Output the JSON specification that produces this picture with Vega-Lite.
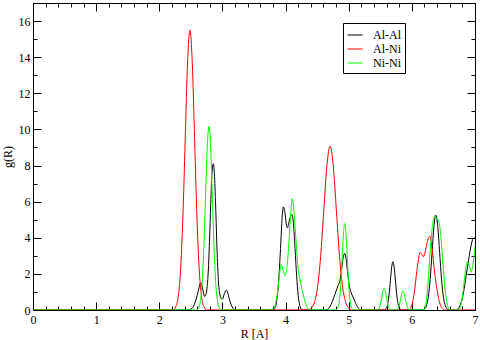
{
"$schema": "https://vega.github.io/schema/vega-lite/v6.json",
"width": 442, "height": 307,
"autosize": "none",
"padding": {"left": 33, "top": 3, "right": 5, "bottom": 30},
"background": "white",
"config": {
  "view": {"stroke": "black", "strokeWidth": 1},
  "font": "Liberation Serif",
  "axis": {"grid": false, "domain": false, "tickColor": "black", "labelColor": "black", "titleColor": "black", "labelFontSize": 12, "titleFontSize": 12, "titleFontWeight": "normal", "labelFlush": false, "labelOverlap": false}
},
"datasets": {
 "g": [
  {"pair":"Al-Al","R":0,"g":0},{"pair":"Al-Al","R":2.45,"g":0},{"pair":"Al-Al","R":2.5,"g":0.05},{"pair":"Al-Al","R":2.54,"g":0.2},{"pair":"Al-Al","R":2.57,"g":0.45},{"pair":"Al-Al","R":2.6,"g":0.8},{"pair":"Al-Al","R":2.63,"g":1.25},{"pair":"Al-Al","R":2.655,"g":1.51},{"pair":"Al-Al","R":2.68,"g":1.3},{"pair":"Al-Al","R":2.7,"g":0.95},{"pair":"Al-Al","R":2.715,"g":0.76},{"pair":"Al-Al","R":2.735,"g":0.8},{"pair":"Al-Al","R":2.755,"g":1.2},{"pair":"Al-Al","R":2.775,"g":2.1},{"pair":"Al-Al","R":2.795,"g":3.8},{"pair":"Al-Al","R":2.815,"g":5.9},{"pair":"Al-Al","R":2.835,"g":7.6},{"pair":"Al-Al","R":2.855,"g":8.1},{"pair":"Al-Al","R":2.875,"g":7.4},{"pair":"Al-Al","R":2.895,"g":5.5},{"pair":"Al-Al","R":2.915,"g":3.3},{"pair":"Al-Al","R":2.935,"g":1.7},{"pair":"Al-Al","R":2.955,"g":0.95},{"pair":"Al-Al","R":2.98,"g":0.65},{"pair":"Al-Al","R":3.0,"g":0.6},{"pair":"Al-Al","R":3.03,"g":0.9},{"pair":"Al-Al","R":3.06,"g":1.1},{"pair":"Al-Al","R":3.085,"g":0.95},{"pair":"Al-Al","R":3.11,"g":0.6},{"pair":"Al-Al","R":3.14,"g":0.28},{"pair":"Al-Al","R":3.17,"g":0.08},{"pair":"Al-Al","R":3.2,"g":0},
  {"pair":"Al-Al","R":3.8,"g":0},{"pair":"Al-Al","R":3.83,"g":0.1},{"pair":"Al-Al","R":3.86,"g":0.5},{"pair":"Al-Al","R":3.89,"g":1.6},{"pair":"Al-Al","R":3.92,"g":3.4},{"pair":"Al-Al","R":3.94,"g":4.8},{"pair":"Al-Al","R":3.965,"g":5.71},{"pair":"Al-Al","R":3.99,"g":5.4},{"pair":"Al-Al","R":4.01,"g":4.8},{"pair":"Al-Al","R":4.03,"g":4.55},{"pair":"Al-Al","R":4.055,"g":4.9},{"pair":"Al-Al","R":4.08,"g":5.2},{"pair":"Al-Al","R":4.1,"g":5.29},{"pair":"Al-Al","R":4.125,"g":4.8},{"pair":"Al-Al","R":4.15,"g":3.4},{"pair":"Al-Al","R":4.175,"g":1.9},{"pair":"Al-Al","R":4.2,"g":0.8},{"pair":"Al-Al","R":4.225,"g":0.25},{"pair":"Al-Al","R":4.25,"g":0.05},{"pair":"Al-Al","R":4.28,"g":0},
  {"pair":"Al-Al","R":4.64,"g":0},{"pair":"Al-Al","R":4.68,"g":0.08},{"pair":"Al-Al","R":4.72,"g":0.3},{"pair":"Al-Al","R":4.76,"g":0.65},{"pair":"Al-Al","R":4.8,"g":1.05},{"pair":"Al-Al","R":4.83,"g":1.35},{"pair":"Al-Al","R":4.86,"g":1.6},{"pair":"Al-Al","R":4.885,"g":2.2},{"pair":"Al-Al","R":4.91,"g":2.85},{"pair":"Al-Al","R":4.937,"g":3.13},{"pair":"Al-Al","R":4.96,"g":2.8},{"pair":"Al-Al","R":4.985,"g":2.0},{"pair":"Al-Al","R":5.01,"g":1.35},{"pair":"Al-Al","R":5.035,"g":1.0},{"pair":"Al-Al","R":5.06,"g":0.78},{"pair":"Al-Al","R":5.09,"g":0.55},{"pair":"Al-Al","R":5.12,"g":0.3},{"pair":"Al-Al","R":5.15,"g":0.12},{"pair":"Al-Al","R":5.19,"g":0},
  {"pair":"Al-Al","R":5.56,"g":0},{"pair":"Al-Al","R":5.58,"g":0.03},{"pair":"Al-Al","R":5.6,"g":0.12},{"pair":"Al-Al","R":5.62,"g":0.36},{"pair":"Al-Al","R":5.64,"g":0.87},{"pair":"Al-Al","R":5.66,"g":1.62},{"pair":"Al-Al","R":5.68,"g":2.36},{"pair":"Al-Al","R":5.7,"g":2.67},{"pair":"Al-Al","R":5.72,"g":2.36},{"pair":"Al-Al","R":5.74,"g":1.62},{"pair":"Al-Al","R":5.76,"g":0.87},{"pair":"Al-Al","R":5.78,"g":0.36},{"pair":"Al-Al","R":5.8,"g":0.12},{"pair":"Al-Al","R":5.82,"g":0.03},{"pair":"Al-Al","R":5.85,"g":0},
  {"pair":"Al-Al","R":6.18,"g":0},{"pair":"Al-Al","R":6.2,"g":0.06},{"pair":"Al-Al","R":6.23,"g":0.23},{"pair":"Al-Al","R":6.26,"g":0.71},{"pair":"Al-Al","R":6.29,"g":1.7},{"pair":"Al-Al","R":6.32,"g":3.18},{"pair":"Al-Al","R":6.35,"g":4.63},{"pair":"Al-Al","R":6.38,"g":5.25},{"pair":"Al-Al","R":6.41,"g":4.63},{"pair":"Al-Al","R":6.44,"g":3.18},{"pair":"Al-Al","R":6.47,"g":1.7},{"pair":"Al-Al","R":6.5,"g":0.71},{"pair":"Al-Al","R":6.53,"g":0.23},{"pair":"Al-Al","R":6.56,"g":0.06},{"pair":"Al-Al","R":6.6,"g":0},
  {"pair":"Al-Al","R":6.7,"g":0},{"pair":"Al-Al","R":6.74,"g":0.1},{"pair":"Al-Al","R":6.78,"g":0.4},{"pair":"Al-Al","R":6.82,"g":1.0},{"pair":"Al-Al","R":6.86,"g":1.9},{"pair":"Al-Al","R":6.9,"g":2.8},{"pair":"Al-Al","R":6.94,"g":3.6},{"pair":"Al-Al","R":6.97,"g":3.95},{"pair":"Al-Al","R":7.0,"g":4.0},

  {"pair":"Al-Ni","R":0,"g":0},{"pair":"Al-Ni","R":2.22,"g":0},{"pair":"Al-Ni","R":2.26,"g":0.17},{"pair":"Al-Ni","R":2.2975,"g":0.68},{"pair":"Al-Ni","R":2.335,"g":2.1},{"pair":"Al-Ni","R":2.3725,"g":5.03},{"pair":"Al-Ni","R":2.41,"g":9.4},{"pair":"Al-Ni","R":2.4475,"g":13.68},{"pair":"Al-Ni","R":2.485,"g":15.5},{"pair":"Al-Ni","R":2.5225,"g":13.68},{"pair":"Al-Ni","R":2.56,"g":9.4},{"pair":"Al-Ni","R":2.5975,"g":5.03},{"pair":"Al-Ni","R":2.635,"g":2.1},{"pair":"Al-Ni","R":2.6725,"g":0.68},{"pair":"Al-Ni","R":2.71,"g":0.17},{"pair":"Al-Ni","R":2.75,"g":0},
  {"pair":"Al-Ni","R":4.38,"g":0},{"pair":"Al-Ni","R":4.405,"g":0.1},{"pair":"Al-Ni","R":4.455,"g":0.4},{"pair":"Al-Ni","R":4.505,"g":1.23},{"pair":"Al-Ni","R":4.555,"g":2.95},{"pair":"Al-Ni","R":4.605,"g":5.51},{"pair":"Al-Ni","R":4.655,"g":8.01},{"pair":"Al-Ni","R":4.705,"g":9.08},{"pair":"Al-Ni","R":4.755,"g":8.01},{"pair":"Al-Ni","R":4.805,"g":5.51},{"pair":"Al-Ni","R":4.855,"g":2.95},{"pair":"Al-Ni","R":4.905,"g":1.23},{"pair":"Al-Ni","R":4.955,"g":0.4},{"pair":"Al-Ni","R":5.005,"g":0.1},{"pair":"Al-Ni","R":5.045,"g":0},
  {"pair":"Al-Ni","R":5.95,"g":0},{"pair":"Al-Ni","R":5.98,"g":0.1},{"pair":"Al-Ni","R":6.01,"g":0.4},{"pair":"Al-Ni","R":6.04,"g":1.0},{"pair":"Al-Ni","R":6.07,"g":1.9},{"pair":"Al-Ni","R":6.1,"g":2.7},{"pair":"Al-Ni","R":6.13,"g":3.19},{"pair":"Al-Ni","R":6.155,"g":3.1},{"pair":"Al-Ni","R":6.18,"g":2.95},{"pair":"Al-Ni","R":6.21,"g":3.2},{"pair":"Al-Ni","R":6.24,"g":3.7},{"pair":"Al-Ni","R":6.265,"g":4.0},{"pair":"Al-Ni","R":6.284,"g":4.09},{"pair":"Al-Ni","R":6.3,"g":3.9},{"pair":"Al-Ni","R":6.33,"g":3.1},{"pair":"Al-Ni","R":6.36,"g":2.1},{"pair":"Al-Ni","R":6.39,"g":1.3},{"pair":"Al-Ni","R":6.42,"g":0.7},{"pair":"Al-Ni","R":6.45,"g":0.3},{"pair":"Al-Ni","R":6.48,"g":0.1},{"pair":"Al-Ni","R":6.51,"g":0},{"pair":"Al-Ni","R":7.0,"g":0},

  {"pair":"Ni-Ni","R":0,"g":0},{"pair":"Ni-Ni","R":2.59,"g":0},{"pair":"Ni-Ni","R":2.621,"g":0.11},{"pair":"Ni-Ni","R":2.649,"g":0.45},{"pair":"Ni-Ni","R":2.676,"g":1.38},{"pair":"Ni-Ni","R":2.704,"g":3.3},{"pair":"Ni-Ni","R":2.731,"g":6.17},{"pair":"Ni-Ni","R":2.759,"g":8.97},{"pair":"Ni-Ni","R":2.786,"g":10.17},{"pair":"Ni-Ni","R":2.814,"g":8.97},{"pair":"Ni-Ni","R":2.841,"g":6.17},{"pair":"Ni-Ni","R":2.869,"g":3.3},{"pair":"Ni-Ni","R":2.896,"g":1.38},{"pair":"Ni-Ni","R":2.924,"g":0.45},{"pair":"Ni-Ni","R":2.951,"g":0.11},{"pair":"Ni-Ni","R":2.99,"g":0},
  {"pair":"Ni-Ni","R":3.77,"g":0},{"pair":"Ni-Ni","R":3.8,"g":0.05},{"pair":"Ni-Ni","R":3.82,"g":0.15},{"pair":"Ni-Ni","R":3.85,"g":0.5},{"pair":"Ni-Ni","R":3.88,"g":1.2},{"pair":"Ni-Ni","R":3.905,"g":2.0},{"pair":"Ni-Ni","R":3.93,"g":2.52},{"pair":"Ni-Ni","R":3.96,"g":2.2},{"pair":"Ni-Ni","R":3.99,"g":1.9},{"pair":"Ni-Ni","R":4.02,"g":2.3},{"pair":"Ni-Ni","R":4.05,"g":3.6},{"pair":"Ni-Ni","R":4.075,"g":5.0},{"pair":"Ni-Ni","R":4.108,"g":6.17},{"pair":"Ni-Ni","R":4.135,"g":5.4},{"pair":"Ni-Ni","R":4.16,"g":4.14},{"pair":"Ni-Ni","R":4.18,"g":3.1},{"pair":"Ni-Ni","R":4.2,"g":2.3},{"pair":"Ni-Ni","R":4.235,"g":1.55},{"pair":"Ni-Ni","R":4.27,"g":1.0},{"pair":"Ni-Ni","R":4.31,"g":0.45},{"pair":"Ni-Ni","R":4.35,"g":0.1},{"pair":"Ni-Ni","R":4.39,"g":0},
  {"pair":"Ni-Ni","R":4.8,"g":0},{"pair":"Ni-Ni","R":4.817,"g":0.05},{"pair":"Ni-Ni","R":4.837,"g":0.21},{"pair":"Ni-Ni","R":4.857,"g":0.65},{"pair":"Ni-Ni","R":4.877,"g":1.56},{"pair":"Ni-Ni","R":4.897,"g":2.91},{"pair":"Ni-Ni","R":4.917,"g":4.23},{"pair":"Ni-Ni","R":4.937,"g":4.79},{"pair":"Ni-Ni","R":4.957,"g":4.23},{"pair":"Ni-Ni","R":4.977,"g":2.91},{"pair":"Ni-Ni","R":4.997,"g":1.56},{"pair":"Ni-Ni","R":5.017,"g":0.65},{"pair":"Ni-Ni","R":5.037,"g":0.21},{"pair":"Ni-Ni","R":5.057,"g":0.05},{"pair":"Ni-Ni","R":5.08,"g":0},
  {"pair":"Ni-Ni","R":5.44,"g":0},{"pair":"Ni-Ni","R":5.46,"g":0.02},{"pair":"Ni-Ni","R":5.48,"g":0.09},{"pair":"Ni-Ni","R":5.5,"g":0.28},{"pair":"Ni-Ni","R":5.52,"g":0.63},{"pair":"Ni-Ni","R":5.54,"g":1.02},{"pair":"Ni-Ni","R":5.56,"g":1.2},{"pair":"Ni-Ni","R":5.58,"g":1.02},{"pair":"Ni-Ni","R":5.6,"g":0.63},{"pair":"Ni-Ni","R":5.62,"g":0.28},{"pair":"Ni-Ni","R":5.64,"g":0.09},{"pair":"Ni-Ni","R":5.66,"g":0.02},{"pair":"Ni-Ni","R":5.68,"g":0},
  {"pair":"Ni-Ni","R":5.74,"g":0},{"pair":"Ni-Ni","R":5.76,"g":0.02},{"pair":"Ni-Ni","R":5.78,"g":0.08},{"pair":"Ni-Ni","R":5.8,"g":0.25},{"pair":"Ni-Ni","R":5.82,"g":0.56},{"pair":"Ni-Ni","R":5.84,"g":0.91},{"pair":"Ni-Ni","R":5.86,"g":1.07},{"pair":"Ni-Ni","R":5.88,"g":0.91},{"pair":"Ni-Ni","R":5.9,"g":0.56},{"pair":"Ni-Ni","R":5.92,"g":0.25},{"pair":"Ni-Ni","R":5.94,"g":0.08},{"pair":"Ni-Ni","R":5.96,"g":0.02},{"pair":"Ni-Ni","R":5.98,"g":0},
  {"pair":"Ni-Ni","R":6.19,"g":0},{"pair":"Ni-Ni","R":6.22,"g":0.3},{"pair":"Ni-Ni","R":6.25,"g":1.2},{"pair":"Ni-Ni","R":6.28,"g":2.7},{"pair":"Ni-Ni","R":6.31,"g":4.1},{"pair":"Ni-Ni","R":6.34,"g":5.0},{"pair":"Ni-Ni","R":6.36,"g":5.21},{"pair":"Ni-Ni","R":6.39,"g":5.1},{"pair":"Ni-Ni","R":6.42,"g":4.95},{"pair":"Ni-Ni","R":6.44,"g":4.7},{"pair":"Ni-Ni","R":6.47,"g":3.6},{"pair":"Ni-Ni","R":6.5,"g":2.2},{"pair":"Ni-Ni","R":6.53,"g":1.0},{"pair":"Ni-Ni","R":6.56,"g":0.35},{"pair":"Ni-Ni","R":6.59,"g":0.05},{"pair":"Ni-Ni","R":6.62,"g":0},
  {"pair":"Ni-Ni","R":6.73,"g":0},{"pair":"Ni-Ni","R":6.76,"g":0.1},{"pair":"Ni-Ni","R":6.79,"g":0.5},{"pair":"Ni-Ni","R":6.82,"g":1.3},{"pair":"Ni-Ni","R":6.85,"g":2.2},{"pair":"Ni-Ni","R":6.88,"g":2.67},{"pair":"Ni-Ni","R":6.91,"g":2.45},{"pair":"Ni-Ni","R":6.94,"g":2.12},{"pair":"Ni-Ni","R":6.97,"g":2.6},{"pair":"Ni-Ni","R":7.0,"g":3.5}
 ]
},
"data": {"name": "g"},
"encoding": {
  "x": {"field": "R", "type": "quantitative", "scale": {"domain": [0, 7], "nice": false, "zero": false}},
  "y": {"field": "g", "type": "quantitative", "scale": {"domain": [0, 17], "nice": false}}
},
"layer": [
  {
    "mark": {"type": "line", "strokeOpacity": 0},
    "encoding": {
      "x": {"field": "R", "type": "quantitative", "axis": {"orient": "bottom", "values": [0.2,0.4,0.6,0.8,1.2,1.4,1.6,1.8,2.2,2.4,2.6,2.8,3.2,3.4,3.6,3.8,4.2,4.4,4.6,4.8,5.2,5.4,5.6,5.8,6.2,6.4,6.6,6.8], "tickSize": -4, "labels": false, "title": null}},
      "y": {"field": "g", "type": "quantitative", "axis": {"orient": "left", "values": [1,3,5,7,9,11,13,15,17], "tickSize": -4, "labels": false, "title": null}}
    }
  },
  {
    "mark": {"type": "line", "strokeOpacity": 0},
    "encoding": {
      "x": {"field": "R", "type": "quantitative", "axis": {"orient": "top", "values": [0,1,2,3,4,5,6,7], "tickSize": -8, "labels": false, "title": null}},
      "y": {"field": "g", "type": "quantitative", "axis": {"orient": "right", "values": [0,2,4,6,8,10,12,14,16], "tickSize": -8, "labels": false, "title": null}}
    }
  },
  {
    "mark": {"type": "line", "strokeOpacity": 0},
    "encoding": {
      "x": {"field": "R", "type": "quantitative", "axis": {"orient": "top", "values": [0.2,0.4,0.6,0.8,1.2,1.4,1.6,1.8,2.2,2.4,2.6,2.8,3.2,3.4,3.6,3.8,4.2,4.4,4.6,4.8,5.2,5.4,5.6,5.8,6.2,6.4,6.6,6.8], "tickSize": -4, "labels": false, "title": null}},
      "y": {"field": "g", "type": "quantitative", "axis": {"orient": "right", "values": [1,3,5,7,9,11,13,15,17], "tickSize": -4, "labels": false, "title": null}}
    }
  },
  {
    "mark": {"type": "line", "interpolate": "monotone", "strokeWidth": 1, "clip": true},
    "encoding": {
      "x": {"field": "R", "type": "quantitative", "axis": {"orient": "bottom", "values": [0,1,2,3,4,5,6,7], "tickSize": -8, "labelPadding": 12, "title": "R [A]", "titlePadding": 3}},
      "y": {"field": "g", "type": "quantitative", "axis": {"orient": "left", "values": [0,2,4,6,8,10,12,14,16], "tickSize": -8, "labelPadding": 11, "title": "g(R)", "titlePadding": 4}},
      "color": {"field": "pair", "type": "nominal", "scale": {"domain": ["Al-Al", "Al-Ni", "Ni-Ni"], "range": ["#000000", "#ff0000", "#00ff00"]},
        "legend": {"title": null, "orient": "none", "legendX": 310, "legendY": 20, "strokeColor": "black", "fillColor": "white", "padding": 4, "symbolType": "stroke", "symbolSize": 225, "symbolStrokeWidth": 1, "labelFontSize": 12, "labelColor": "black", "labelOffset": 10, "rowPadding": -5}}
    }
  }
],
"resolve": {"axis": {"x": "independent", "y": "independent"}}
}
